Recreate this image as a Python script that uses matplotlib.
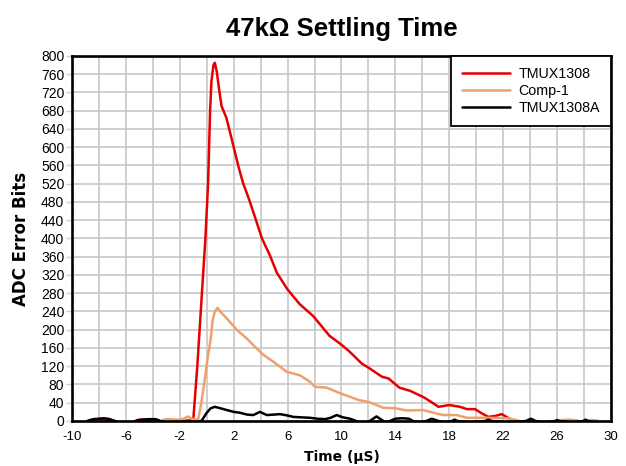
import matplotlib
matplotlib.use("Agg")
import matplotlib.pyplot as plt
from matplotlib.ticker import MultipleLocator, FixedLocator

plt.rcParams['font.family'] = ['Liberation Sans', 'DejaVu Sans']

# ---- data ----
red_x = [-9, -8.5, -8, -7.5, -7, -6.5, -6, -5.5, -5, -4.5, -4, -3.5, -3, -2.5, -2, -1.5,
         -1.0, -0.7, -0.4, -0.1, 0.1, 0.25, 0.35, 0.5, 0.6, 0.75, 0.9, 1.1, 1.45, 1.75,
         2.05, 2.35, 2.7, 3.15, 3.6, 4.1, 4.7, 5.2, 6.0, 6.9, 7.9, 9.1, 10.0, 10.6, 11.5,
         12.1, 13.0, 13.5, 14.3, 15.1, 16.1, 16.8, 17.2, 18.0, 18.8, 19.3, 19.9, 20.4,
         20.9, 21.4, 21.9, 22.4, 22.8, 23.2, 24, 25, 26, 27, 28, 29]
red_y = [-3, 2, 4, 3, -2, -5, -5, -2, 3, 2, -3, -5, -5, -4, -3, 1,
         2, 120, 260, 400, 520, 680, 745, 780, 785, 765, 730, 690, 665, 630,
         594, 558, 521, 485, 445, 400, 362, 325, 288, 256, 230, 187, 167, 152, 126,
         115, 97, 93, 73, 66, 52, 39, 31, 35, 31, 26, 26, 17,
         9, 11, 15, 6, 1, -3, -5, -5, -5, -5, -5, -5]

comp_x = [-9, -4, -3.4, -3.2, -2.8, -2.4, -2.0, -1.7, -1.4, -1.2, -0.9, -0.63, -0.4, -0.2,
          -0.08, 0.1, 0.29, 0.44, 0.6, 0.81, 1.0, 1.48, 2.22, 2.96, 3.6, 4.2, 4.94, 5.93,
          6.92, 7.66, 8.03, 8.9, 9.89, 10.63, 11.25, 11.99, 13.1, 13.97, 14.84, 16.07,
          16.81, 17.55, 18.55, 19.29, 20.77, 22.26, 23.0, 23.5, 25, 26, 26.3, 26.9, 27.5,
          27.8, 28.1, 28.5, 29, 29.2]
comp_y = [-5, -5, -1, 3, 4, 3, 3, 5, 10, 6, 3, 4, 40, 80,
          105, 145, 178, 221, 240, 248, 240, 225, 200, 181, 162, 145, 130, 108,
          100, 86, 75, 73, 61, 53, 46, 42, 29, 28, 23, 24,
          18, 13, 13, 7, 7, 6, 2, -3, -4, -1, 2, 3, 1,
          -2, 1, 2, 1, -3]

a_x = [-9, -8.8, -8.4, -8.0, -7.6, -7.2, -6.8, -6.5, -5.5, -5.2, -4.8, -4.3, -3.8, -3.5,
       -3.2, -1.0, -0.6, -0.37, 0.0, 0.3, 0.6, 1.0, 1.48, 2.0, 2.47, 3.0, 3.46, 3.95,
       4.45, 5.0, 5.44, 6.0, 6.42, 7.0, 7.66, 8.2, 8.8, 9.2, 9.64, 10.1, 10.63, 11.0,
       11.3, 11.8, 12.1, 12.6, 13.1, 13.35, 13.6, 14.0, 14.5, 15.0, 15.3, 15.8, 16.3,
       16.7, 17.2, 17.7, 18.2, 18.4, 18.6, 19.6, 20.65, 20.9, 21.15, 22.4, 23.7, 24.05,
       24.4, 25.1, 25.85, 26.0, 26.2, 27.1, 27.95, 28.1, 28.3, 29]
a_y = [-3, 1, 4, 5, 6, 4, 0, -4, -4, 1, 3, 4, 4, 1,
       -4, -4, -2, 1, 18, 28, 31, 28, 24, 20, 18, 14, 13, 20,
       13, 14, 15, 12, 9, 8, 7, 5, 4, 7, 13, 8, 5, 1,
       -3, -3, 0, 10, 0, -3, 0, 5, 6, 5, 0, -3, 0,
       5, 0, -3, 0, 3, 0, -3, 0, 3, 0, -3, 0, 5,
       0, -3, 0, 2, 0, -3, 0, 3, 0, -4]

series_names = ["TMUX1308", "Comp-1", "TMUX1308A"]
series_colors = ["#e60000", "#f0a06c", "#000000"]

x_tick_values = [-10, -6, -2, 2, 6, 10, 14, 18, 22, 26, 30]
x_tick_labels = ["-10", "-6", "-2", "2", "6", "10", "14", "18", "22", "26", "30"]
y_tick_values = list(range(0, 801, 40))

# ---- figure ----
fig = plt.figure(figsize=(6.26, 4.66), dpi=100)
ax = fig.add_axes([0.115, 0.0966, 0.861, 0.7834])

for xs, ys, name, col in zip([red_x, comp_x, a_x], [red_y, comp_y, a_y],
                             series_names, series_colors):
    ax.plot(xs, ys, color=col, lw=1.8, label=name, solid_joinstyle='round',
            solid_capstyle='round')

ax.set_xlim(-10, 30)
ax.set_ylim(0, 800)
ax.xaxis.set_major_locator(FixedLocator(x_tick_values))
ax.set_xticklabels(x_tick_labels)
ax.xaxis.set_minor_locator(MultipleLocator(2))
ax.yaxis.set_major_locator(FixedLocator(y_tick_values))
ax.tick_params(axis='x', which='both', length=0, labelsize=9.5, pad=7)
ax.tick_params(axis='y', which='both', length=4.5, width=1, color='#d0d0d0',
               labelsize=10, pad=1)
ax.grid(which='both', color='#c8c8c8', lw=1.2)
ax.set_axisbelow(True)
for sp in ax.spines.values():
    sp.set_linewidth(1.9)
    sp.set_color('black')

ax.set_title("47kΩ Settling Time", fontsize=18.5, fontweight='bold', pad=14)
ax.set_xlabel("Time (µS)", fontsize=10, fontweight='bold', labelpad=5,
              family=['DejaVu Sans'])
ax.set_ylabel("ADC Error Bits", fontsize=12, fontweight='bold', labelpad=8,
              family=['DejaVu Sans'])

leg = ax.legend(loc='upper right', fontsize=10.3, frameon=True, fancybox=False,
                borderaxespad=0, handlelength=3.4, handletextpad=0.6,
                labelspacing=0.22, borderpad=0.75)
leg.get_frame().set_edgecolor('black')
leg.get_frame().set_linewidth(1.3)
leg.get_frame().set_alpha(1)

fig.savefig("out.png", dpi=100)
